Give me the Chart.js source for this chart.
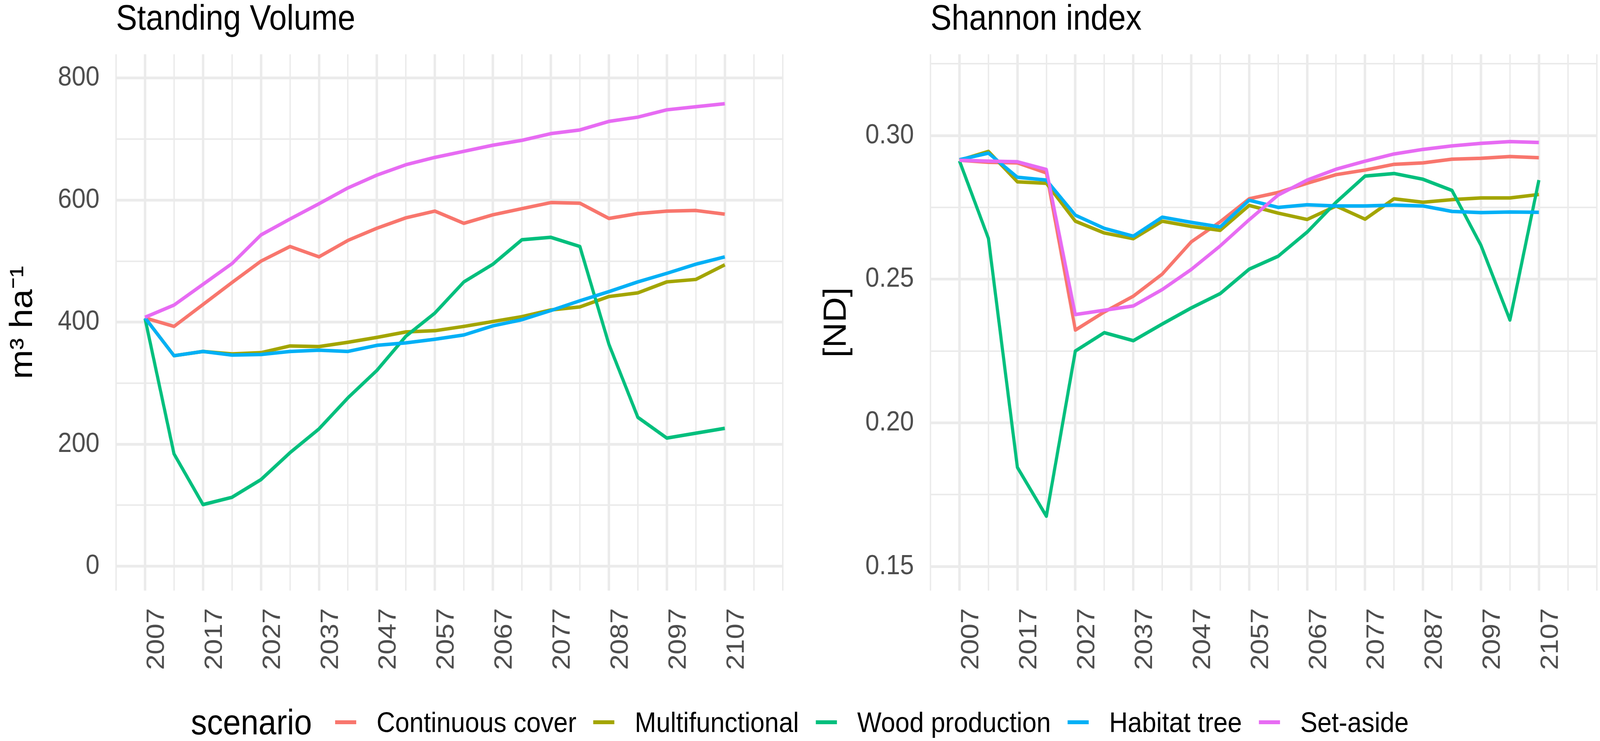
<!DOCTYPE html>
<html>
<head>
<meta charset="utf-8">
<script src="https://cdn.jsdelivr.net/npm/chart.js@4.4.1/dist/chart.umd.min.js"></script>
<style>
  html, body { margin:0; padding:0; background:#fff; overflow:hidden;
    font-family:'Liberation Sans', Arial, Helvetica, sans-serif; }
  #root { position:absolute; left:0; top:0; width:4550px; height:1897px; transform-origin:0 0; background:#fff; }
  .panel { position:absolute; top:0; height:1760px; }
  #p1 { left:0; width:2300px; }
  #p2 { left:2300px; width:2250px; }
  .ptitle { position:absolute; top:0; font-size:90px; line-height:90px; color:#000; white-space:nowrap; }
  #t1 { left:330px; }
  #t2 { left:2646px; }
  #legend { position:absolute; left:543px; top:1803px; height:91px; display:flex; align-items:center; white-space:nowrap; }
  #legend .ltitle { font-size:91px; line-height:91px; color:#000; margin-right:66px; }
  #legend .key { display:inline-block; width:60px; height:10px; margin-right:58px; }
  #legend .ltext { font-size:73px; line-height:73px; color:#000; margin-right:48px; }
  #legend .ltext:last-child { margin-right:0; }
</style>
</head>
<body>
<div id="root">
  <div class="panel" id="p1"><canvas id="c1"></canvas></div>
  <div class="panel" id="p2"><canvas id="c2"></canvas></div>
  <div class="ptitle" id="t1">Standing Volume</div>
  <div class="ptitle" id="t2">Shannon index</div>
  <div id="legend"></div>
</div>
<script>
// ---------------- data ----------------
const years = [2007, 2012, 2017, 2022, 2027, 2032, 2037, 2042, 2047, 2052, 2057,
               2062, 2067, 2072, 2077, 2082, 2087, 2092, 2097, 2102, 2107];
const scenarios = ['Continuous cover', 'Multifunctional', 'Wood production', 'Habitat tree', 'Set-aside'];

// Standing volume (m3 ha-1)
const volContinuous   = [407, 393, 429, 465, 500, 524, 507, 534, 554, 571, 582, 562, 576, 586, 596, 595, 570, 578, 582, 583, 577];
const volMultifunc    = [407, 345, 352, 348, 350, 361, 360, 367, 375, 384, 386, 393, 401, 409, 420, 425, 442, 448, 466, 470, 494];
const volWood         = [406, 184, 101, 113, 142, 186, 225, 276, 321, 377, 415, 466, 495, 535, 539, 524, 364, 244, 210, 218, 226];
const volHabitat      = [407, 345, 352, 346, 347, 352, 354, 352, 362, 366, 372, 379, 394, 404, 419, 435, 450, 466, 480, 495, 507];
const volSetAside     = [408, 428, 462, 496, 543, 569, 594, 620, 641, 658, 670, 680, 690, 698, 709, 715, 729, 736, 748, 753, 758];

// Shannon index [ND]
const shContinuous = [0.2914, 0.2907, 0.2905, 0.2870, 0.2323, 0.2386, 0.2441, 0.2518, 0.2630, 0.2700, 0.2780,
                      0.2802, 0.2834, 0.2864, 0.2880, 0.2900, 0.2905, 0.2918, 0.2921, 0.2927, 0.2923];
const shMultifunc  = [0.2914, 0.2945, 0.2839, 0.2834, 0.2702, 0.2661, 0.2641, 0.2702, 0.2684, 0.2670, 0.2757,
                      0.2730, 0.2708, 0.2755, 0.2709, 0.2780, 0.2768, 0.2777, 0.2783, 0.2783, 0.2795];
const shWood       = [0.2912, 0.2642, 0.1845, 0.1675, 0.2250, 0.2314, 0.2286, 0.2344, 0.2400, 0.2450, 0.2535,
                      0.2580, 0.2664, 0.2768, 0.2859, 0.2868, 0.2848, 0.2809, 0.2618, 0.2358, 0.2845];
const shHabitat    = [0.2916, 0.2939, 0.2855, 0.2845, 0.2723, 0.2677, 0.2650, 0.2716, 0.2698, 0.2682, 0.2775,
                      0.2750, 0.2759, 0.2755, 0.2755, 0.2758, 0.2755, 0.2736, 0.2732, 0.2734, 0.2733];
const shSetAside   = [0.2914, 0.2911, 0.2909, 0.2882, 0.2377, 0.2392, 0.2407, 0.2464, 0.2534, 0.2616, 0.2707,
                      0.2793, 0.2845, 0.2883, 0.2911, 0.2936, 0.2952, 0.2964, 0.2973, 0.2979, 0.2976];

// ticks
const gridYears   = [2002, 2007, 2012, 2017, 2022, 2027, 2032, 2037, 2042, 2047, 2052, 2057,
                     2062, 2067, 2072, 2077, 2082, 2087, 2092, 2097, 2102, 2107, 2112, 2117];
const labelYears  = [2007, 2017, 2027, 2037, 2047, 2057, 2067, 2077, 2087, 2097, 2107];
const volGrid     = [0, 100, 200, 300, 400, 500, 600, 700, 800];
const volLabels   = [0, 200, 400, 600, 800];
const shGrid      = [0.15, 0.175, 0.2, 0.225, 0.25, 0.275, 0.3, 0.325];
const shLabels    = [0.15, 0.2, 0.25, 0.3];

// ---------------- style ----------------
const palette = ['#F8766D', '#A3A500', '#00BF7D', '#00B0F6', '#E76BF3'];
const FONT = "'Liberation Sans', Arial, Helvetica, sans-serif";
const GRID = '#EBEBEB';
const TICKCOL = '#4D4D4D';

// fit the 4550x1897 layout into the actual viewport (may be narrower than requested)
const root = document.getElementById('root');
const sx = Math.min(1, window.innerWidth / 4550);
const sy = Math.min(1, window.innerHeight / 1897);
root.style.transform = 'scale(' + sx + ',' + sy + ')';

Chart.defaults.font.family = FONT;

function buildDatasets(seriesList) {
  return seriesList.map((vals, i) => ({
    label: scenarios[i],
    data: years.map((x, j) => ({ x: x, y: vals[j] })),
    borderColor: palette[i],
    backgroundColor: palette[i],
    borderWidth: 9,
    pointRadius: 0,
    pointHoverRadius: 0,
    fill: false,
    tension: 0,
    borderJoinStyle: 'round',
    borderCapStyle: 'butt',
    order: seriesList.length - i
  }));
}

function makeChart(id, seriesList, cfg) {
  const ctx = document.getElementById(id);
  return new Chart(ctx, {
    type: 'line',
    data: { datasets: buildDatasets(seriesList) },
    options: {
      responsive: true,
      maintainAspectRatio: false,
      animation: false,
      events: [],
      layout: { padding: { top: 139, right: cfg.padRight, left: 0, bottom: 0 } },
      plugins: { legend: { display: false }, tooltip: { enabled: false }, title: { display: false } },
      scales: {
        x: {
          type: 'linear',
          min: 2002, max: 2117,
          afterBuildTicks: s => { s.ticks = gridYears.map(v => ({ value: v })); },
          afterFit: s => { s.height = 248; s.paddingLeft = 0; s.paddingRight = 0; },
          border: { display: false },
          grid: {
            color: GRID,
            drawTicks: false,
            lineWidth: c => (c.tick && labelYears.includes(c.tick.value)) ? 7 : 4
          },
          ticks: {
            autoSkip: false,
            minRotation: 90, maxRotation: 90,
            padding: 45,
            labelOffset: cfg.labelOffset,
            color: TICKCOL,
            font: { size: 71 },
            callback: v => labelYears.includes(v) ? String(v) : ''
          }
        },
        y: {
          type: 'linear',
          min: cfg.yMin, max: cfg.yMax,
          afterBuildTicks: s => { s.ticks = cfg.grid.map(v => ({ value: v })); },
          afterFit: s => { s.width = cfg.yWidth; s.paddingTop = 0; s.paddingBottom = 0; },
          border: { display: false },
          grid: {
            color: GRID,
            drawTicks: false,
            lineWidth: c => (c.tick && cfg.labels.includes(c.tick.value)) ? 7 : 4
          },
          ticks: {
            autoSkip: false,
            padding: 47,
            color: TICKCOL,
            font: { size: 71 },
            callback: v => cfg.labels.includes(v) ? cfg.fmt(v) : ''
          },
          title: {
            display: true,
            text: cfg.yTitle,
            color: '#000',
            font: { size: 90 },
            padding: { top: cfg.titlePad, bottom: 0 }
          }
        }
      }
    }
  });
}

makeChart('c1', [volContinuous, volMultifunc, volWood, volHabitat, volSetAside], {
  yMin: -40, yMax: 839, grid: volGrid, labels: volLabels, fmt: v => String(v),
  yTitle: 'm³ ha⁻¹', yWidth: 330, padRight: 74, titlePad: 12, labelOffset: 34
});
makeChart('c2', [shContinuous, shMultifunc, shWood, shHabitat, shSetAside], {
  yMin: 0.1416, yMax: 0.3283, grid: shGrid, labels: shLabels, fmt: v => v.toFixed(2),
  yTitle: '[ND]', yWidth: 346, padRight: 9, titlePad: 26, labelOffset: 34
});

// legend (HTML)
const legend = document.getElementById('legend');
const lt = document.createElement('span');
lt.className = 'ltitle';
lt.textContent = 'scenario';
legend.appendChild(lt);
scenarios.forEach((name, i) => {
  const k = document.createElement('span');
  k.className = 'key';
  k.style.background = palette[i];
  legend.appendChild(k);
  const t = document.createElement('span');
  t.className = 'ltext';
  t.textContent = name;
  legend.appendChild(t);
});
</script>
</body>
</html>
